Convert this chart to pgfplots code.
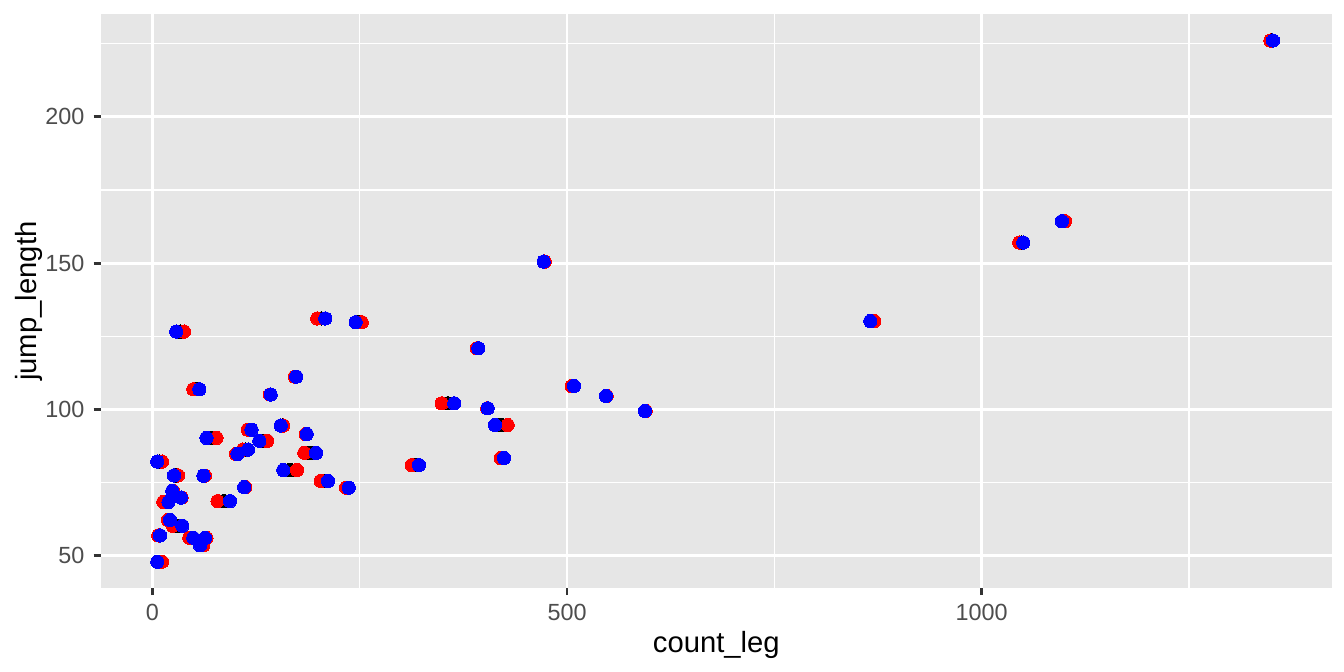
\documentclass[border=0pt]{standalone}
\usepackage{fontspec}
\setmainfont{Liberation Sans}
\usepackage{pgfplots}
\usepackage{pgfplotstable}
\pgfplotsset{compat=1.18}
\definecolor{panelbg}{HTML}{E6E6E6}
\definecolor{grey30}{HTML}{4D4D4D}
\definecolor{grey20}{HTML}{333333}

% xr = red point, xb = blue point, xk = black point, y = jump_length
\pgfplotstableread{
xr xb xk y
1348.2 1351.3 1349.8 226.0
1100.5 1096.8 1098.7 164.3
1045.3 1050.2 1047.8 157.0
870.5 865.7 868.1 130.2
473.1 471.8 472.5 150.5
391.1 393.0 392.1 120.9
348.8 364.0 356.4 102.1
403.8 404.3 404.1 100.4
428.4 413.1 420.8 94.7
505.6 508.4 507.0 108.0
547.8 547.0 547.4 104.6
594.8 594.0 594.4 99.5
420.0 424.0 422.0 83.4
312.7 321.5 317.1 81.0
198.8 208.5 203.7 131.1
252.4 245.1 248.8 129.8
171.6 173.5 172.6 111.2
141.8 142.6 142.2 105.1
157.8 154.7 156.3 94.5
184.9 186.1 185.5 91.6
138.5 128.9 133.7 89.3
183.2 197.3 190.3 85.2
174.4 157.8 166.1 79.3
202.9 211.7 207.3 75.6
233.5 236.7 235.1 73.3
38.1 28.8 33.5 126.6
49.3 56.6 53.0 106.9
114.9 119.5 117.2 93.1
77.3 65.2 71.3 90.3
100.8 102.6 101.7 84.8
109.2 115.3 112.3 86.3
11.6 5.9 8.8 82.2
30.9 26.0 28.5 77.5
63.4 61.6 62.5 77.4
112.0 110.7 111.4 73.5
25.0 24.0 24.5 72.2
35.2 34.5 34.9 69.9
13.1 19.4 16.3 68.4
78.5 93.6 86.1 68.7
18.8 21.2 20.0 62.3
24.5 36.1 30.3 60.3
7.1 9.2 8.2 57.0
44.5 49.3 46.9 56.2
65.2 63.4 64.3 56.1
61.4 57.4 59.4 53.6
11.6 5.9 8.8 48.0
}\pts

\begin{document}
\begin{tikzpicture}
\useasboundingbox (-38.02pt,-31.69pt) rectangle (467.87pt,221.25pt);
\begin{axis}[
  at={(0,0)}, anchor=south west,
  scale only axis, width=463.2pt, height=215.8pt,
  xmin=-62, xmax=1422, ymin=39.1, ymax=234.9,
  xtick={0,500,1000}, ytick={50,100,150,200},
  minor xtick={250,750,1250}, minor ytick={75,125,175,225},
  grid=both,
  major grid style={white, line width=1.07pt},
  minor grid style={white, line width=0.53pt},
  axis background/.style={fill=panelbg},
  axis line style={draw=none},
  tick align=outside, tick pos=left,
  major tick length=2.75pt, minor tick length=0pt,
  tick style={grey20, line width=1.07pt},
  /pgf/number format/assume math mode=true,
  /pgf/number format/set thousands separator={},
  scaled ticks=false,
  ticklabel style={font=\fontsize{8.8}{10}\selectfont, text=grey30},
  xlabel={count\_leg}, ylabel={jump\_length},
  label style={font=\fontsize{11}{13}\selectfont, text=black},
  xlabel style={yshift=3pt},
  ylabel style={yshift=-6pt},
]
\addplot[only marks, mark=*, mark size=2.5pt, mark options={fill=black, draw=black, line width=0pt}] table[x=xk, y=y]{\pts};
\addplot[only marks, mark=*, mark size=2.5pt, mark options={fill=red, draw=red, line width=0pt}] table[x=xr, y=y]{\pts};
\addplot[only marks, mark=*, mark size=2.5pt, mark options={fill=blue, draw=blue, line width=0pt}] table[x=xb, y=y]{\pts};
\end{axis}
\end{tikzpicture}
\end{document}
